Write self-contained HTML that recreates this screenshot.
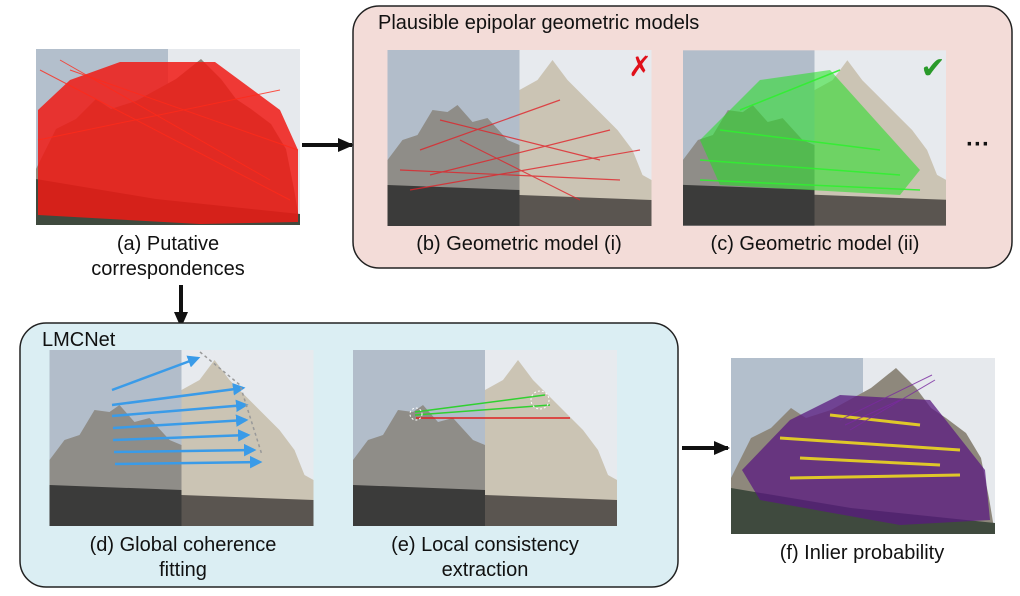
<!DOCTYPE html>
<html><head><meta charset="utf-8"><style>
html,body{margin:0;padding:0;background:#fff;}
svg{display:block;}
text{font-family:"Liberation Sans","DejaVu Sans",sans-serif;fill:#111;}
</style></head><body>
<svg width="1020" height="596" viewBox="0 0 1020 596" xmlns="http://www.w3.org/2000/svg">
<defs>
<marker id="ah" markerUnits="userSpaceOnUse" markerWidth="16" markerHeight="16" refX="14" refY="8" orient="auto"><path d="M0,1L16,8L0,15z" fill="#111"/></marker>
<marker id="bh" markerWidth="5" markerHeight="5" refX="4" refY="2.5" orient="auto"><path d="M0,0L5,2.5L0,5z" fill="#3a9be8"/></marker>
<symbol id="p1" viewBox="0 0 264 176">
<rect x="0" y="0" width="132" height="176" fill="#b3bfcc"/>
<rect x="132" y="0" width="132" height="176" fill="#e6e9ed"/>
<path d="M0,120 L20,80 L40,70 L60,50 L75,60 L100,52 L140,30 L165,10 L185,30 L200,50 L215,60 L235,75 L250,100 L258,140 L264,176 L0,176z" fill="#8e887c"/>
<path d="M0,130 L120,150 L264,165 L264,176 L0,176z" fill="#3f4a3e"/>
</symbol>
<symbol id="p2" viewBox="0 0 264 176">
<rect x="0" y="0" width="132" height="176" fill="#b2bdca"/>
<rect x="132" y="0" width="132" height="176" fill="#e7eaee"/>
<path d="M0,110 L15,90 L30,85 L45,60 L60,62 L70,55 L85,72 L100,68 L120,90 L132,95 L132,176 L0,176z" fill="#8f8d88"/>
<path d="M132,40 L150,30 L165,10 L180,30 L195,45 L215,65 L230,80 L245,100 L255,125 L264,130 L264,176 L132,176z" fill="#cbc4b4"/>
<path d="M0,135 L132,140 L132,176 L0,176z" fill="#3b3b3a"/>
<path d="M132,145 L264,150 L264,176 L132,176z" fill="#5a5550"/>
</symbol>
</defs>

<!-- (a) -->
<use href="#p1" x="36" y="48" width="264" height="178"/>
<path d="M38,110 L70,80 L120,62 L215,62 L280,110 L298,150 L298,222 L200,224 L38,215 Z" fill="#f01a14" opacity="0.85"/>
<g stroke="#ff2a1a" stroke-width="1" opacity="0.8">
<line x1="40" y1="70" x2="290" y2="200"/><line x1="60" y1="60" x2="270" y2="180"/><line x1="38" y1="140" x2="280" y2="90"/><line x1="70" y1="70" x2="298" y2="150"/>
</g>
<text x="168" y="250" font-size="20" text-anchor="middle">(a) Putative</text>
<text x="168" y="275" font-size="20" text-anchor="middle">correspondences</text>

<line x1="302" y1="145" x2="352" y2="145" stroke="#111" stroke-width="4" marker-end="url(#ah)"/>
<line x1="181" y1="285" x2="181" y2="326" stroke="#111" stroke-width="4" marker-end="url(#ah)"/>
<line x1="682" y1="448" x2="728" y2="448" stroke="#111" stroke-width="4" marker-end="url(#ah)"/>

<!-- pink box -->
<rect x="353" y="6" width="659" height="262" rx="26" fill="#f3dcd8" stroke="#222" stroke-width="1.5"/>
<text x="378" y="29" font-size="20">Plausible epipolar geometric models</text>
<use href="#p2" x="387" y="50" width="265" height="176"/>
<g stroke="#e0242a" stroke-width="1.2" opacity="0.8">
<line x1="420" y1="150" x2="560" y2="100"/><line x1="400" y1="170" x2="620" y2="180"/><line x1="440" y1="120" x2="600" y2="160"/><line x1="410" y1="190" x2="640" y2="150"/><line x1="460" y1="140" x2="580" y2="200"/><line x1="430" y1="175" x2="610" y2="130"/>
</g>
<text x="640" y="76" font-size="28" font-weight="bold" text-anchor="middle" style="fill:#e0101a">✗</text>
<use href="#p2" x="683" y="50" width="263" height="176"/>
<path d="M700,140 L760,80 L830,70 L920,170 L900,195 L720,185 Z" fill="#22e022" opacity="0.55"/>
<g stroke="#30f030" stroke-width="1.5" opacity="0.9">
<line x1="700" y1="160" x2="900" y2="175"/><line x1="720" y1="130" x2="880" y2="150"/><line x1="740" y1="110" x2="840" y2="70"/><line x1="700" y1="180" x2="920" y2="190"/>
</g>
<text x="933" y="78" font-size="30" text-anchor="middle" style="fill:#2a9a2a" font-weight="bold">✔</text>
<text x="978" y="152" font-size="24" text-anchor="middle" font-weight="bold">···</text>
<text x="519" y="250" font-size="20" text-anchor="middle">(b) Geometric model (i)</text>
<text x="815" y="250" font-size="20" text-anchor="middle">(c) Geometric model (ii)</text>

<!-- blue box -->
<rect x="20" y="323" width="658" height="264" rx="26" fill="#dbeef3" stroke="#222" stroke-width="1.5"/>
<text x="42" y="346" font-size="20">LMCNet</text>
<use href="#p2" x="48" y="350" width="267" height="176"/>
<g stroke="#3a9be8" stroke-width="2.5" marker-end="url(#bh)">
<line x1="112" y1="390" x2="198" y2="358"/><line x1="112" y1="405" x2="243" y2="388"/>
<line x1="112" y1="416" x2="246" y2="405"/><line x1="113" y1="428" x2="246" y2="420"/>
<line x1="113" y1="440" x2="248" y2="435"/><line x1="114" y1="452" x2="254" y2="450"/><line x1="115" y1="464" x2="260" y2="462"/>
</g>
<path d="M200,352 L240,385 L262,455" stroke="#999" stroke-dasharray="3,3" fill="none" stroke-width="1.5"/>
<use href="#p2" x="352" y="350" width="266" height="176"/>
<g stroke-width="1.5">
<line x1="415" y1="412" x2="545" y2="395" stroke="#30d030"/><line x1="415" y1="415" x2="550" y2="405" stroke="#30d030"/><line x1="416" y1="418" x2="570" y2="418" stroke="#e02020"/>
</g>
<circle cx="416" cy="414" r="6" fill="none" stroke="#fff" stroke-dasharray="2,2"/>
<circle cx="540" cy="400" r="9" fill="none" stroke="#fff" stroke-dasharray="2,2"/>
<text x="183" y="551" font-size="20" text-anchor="middle">(d) Global coherence</text>
<text x="183" y="576" font-size="20" text-anchor="middle">fitting</text>
<text x="485" y="551" font-size="20" text-anchor="middle">(e) Local consistency</text>
<text x="485" y="576" font-size="20" text-anchor="middle">extraction</text>

<!-- (f) -->
<use href="#p1" x="731" y="358" width="264" height="176"/>
<path d="M742,470 L790,420 L840,395 L930,400 L985,470 L990,520 L900,525 L760,500 Z" fill="#5a1a80" opacity="0.75"/>
<g stroke="#ecd820" stroke-width="3" opacity="0.9">
<line x1="780" y1="438" x2="960" y2="450"/><line x1="790" y1="478" x2="960" y2="475"/><line x1="800" y1="458" x2="940" y2="465"/><line x1="830" y1="415" x2="920" y2="425"/>
</g>
<g stroke="#7a2aa0" stroke-width="1" opacity="0.8">
<line x1="840" y1="420" x2="932" y2="375"/><line x1="850" y1="430" x2="935" y2="380"/><line x1="845" y1="425" x2="900" y2="400"/>
</g>
<text x="862" y="559" font-size="20" text-anchor="middle">(f) Inlier probability</text>
</svg>
</body></html>
